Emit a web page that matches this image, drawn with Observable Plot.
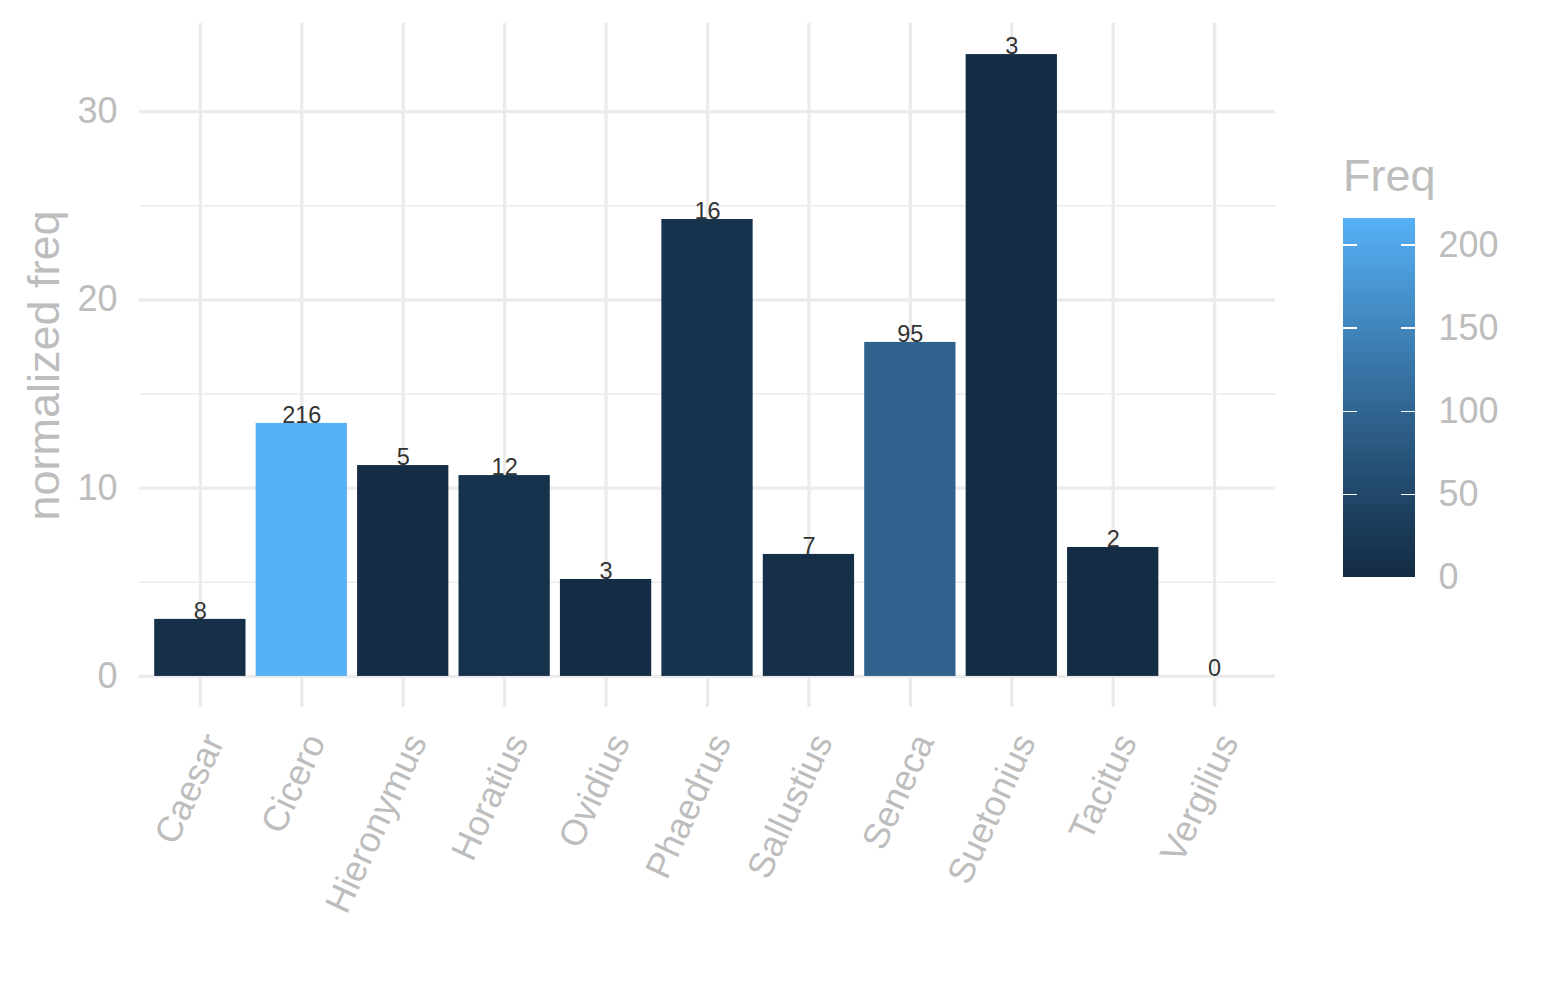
<!DOCTYPE html>
<html>
<head>
<meta charset="utf-8">
<script src="https://cdn.jsdelivr.net/npm/d3@7"></script>
<script src="https://cdn.jsdelivr.net/npm/@observablehq/plot@0.6"></script>
<style>
  html, body { margin: 0; padding: 0; background: #fff; }
  #wrap { position: relative; width: 1545px; height: 1000px; font-family: "Liberation Sans", Arial, sans-serif; overflow: hidden; }
  #main { position: absolute; left: 0; top: 0; width: 1545px; height: 1000px; }
  #legend { position: absolute; left: 1320px; top: 140px; width: 225px; height: 460px; }
  #legend svg, #main svg { display: block; max-width: none; }
  #ltitle { position: absolute; left: 1343px; top: 151px; font-size: 45px; color: #bdbdbd; line-height: 50px; }
</style>
</head>
<body>
<div id="wrap">
  <div id="main"></div>
  <div id="ltitle">Freq</div>
  <div id="legend"></div>
</div>
<script>
const authors = ["Caesar","Cicero","Hieronymus","Horatius","Ovidius","Phaedrus","Sallustius","Seneca","Suetonius","Tacitus","Vergilius"];
const normFreq = [3.03, 13.44, 11.2, 10.67, 5.15, 24.27, 6.48, 17.74, 33.03, 6.85, 0];
const freq = [8, 216, 5, 12, 3, 16, 7, 95, 3, 2, 0];
const yMajor = [0, 10, 20, 30];
const yMinor = [5, 15, 25];
const legendTicks = [0, 50, 100, 150, 200];

const data = authors.map((a, i) => ({author: a, value: normFreq[i], freq: freq[i]}));

const grey = "#bdbdbd";
const gridCol = "#ebebeb";
const colorScale = {type: "linear", domain: [0, 216], range: ["#132B43", "#56B1F7"], interpolate: "lab"};

const main = Plot.plot({
  width: 1545,
  height: 1000,
  marginLeft: 139,
  marginRight: 270,
  marginTop: 23,
  marginBottom: 293,
  style: {fontFamily: "Liberation Sans, Arial, sans-serif", background: "white"},
  x: {type: "band", domain: authors, paddingInner: 0.1, paddingOuter: 0.15, round: false, label: null},
  y: {domain: [-1.65, 34.68], label: null},
  color: colorScale,
  marks: [
    Plot.gridY(yMinor, {stroke: gridCol, strokeOpacity: 1, strokeWidth: 1.6}),
    Plot.gridY(yMajor, {stroke: gridCol, strokeOpacity: 1, strokeWidth: 3.2}),
    Plot.gridX(authors, {stroke: gridCol, strokeOpacity: 1, strokeWidth: 3.2}),
    Plot.barY(data, {x: "author", y: "value", fill: "freq"}),
    Plot.text(data, {x: "author", y: "value", text: d => String(d.freq), fontSize: 23.5, fill: "#333333", lineAnchor: "middle", dy: -8}),
    Plot.axisY(yMajor, {tickSize: 0, tickPadding: 22, fontSize: 36, color: grey, label: null}),
    Plot.axisX({tickSize: 0, tickRotate: -65, tickPadding: 29, dx: 14, fontSize: 36, color: grey, label: null}),
    Plot.text(["normalized freq"], {frameAnchor: "left", dx: -95, rotate: -90, fontSize: 45, fill: grey, lineAnchor: "middle", textAnchor: "middle"})
  ]
});
document.getElementById("main").appendChild(main);

// Legend (colour bar) derived from the same colour scale
const steps = d3.range(0, 216, 0.5);
const legend = Plot.plot({
  width: 225,
  height: 460,
  marginLeft: 23,
  marginRight: 130,
  marginTop: 78,
  marginBottom: 23,
  style: {fontFamily: "Liberation Sans, Arial, sans-serif", background: "transparent", shapeRendering: "crispEdges"},
  x: {domain: [0, 1], axis: null},
  y: {domain: [0, 216], label: null},
  color: colorScale,
  marks: [
    Plot.rect(steps, {x1: 0, x2: 1, y1: d => d, y2: d => Math.min(216, d + 1), fill: d => d + 0.25}),
    Plot.ruleY(legendTicks, {x1: 0, x2: 0.2, stroke: "white", strokeWidth: 1.5}),
    Plot.ruleY(legendTicks, {x1: 0.8, x2: 1, stroke: "white", strokeWidth: 1.5}),
    Plot.axisY(legendTicks, {anchor: "right", tickSize: 0, tickPadding: 23, fontSize: 36, color: grey, label: null, textAnchor: "start"})
  ]
});
document.getElementById("legend").appendChild(legend);
</script>
</body>
</html>
